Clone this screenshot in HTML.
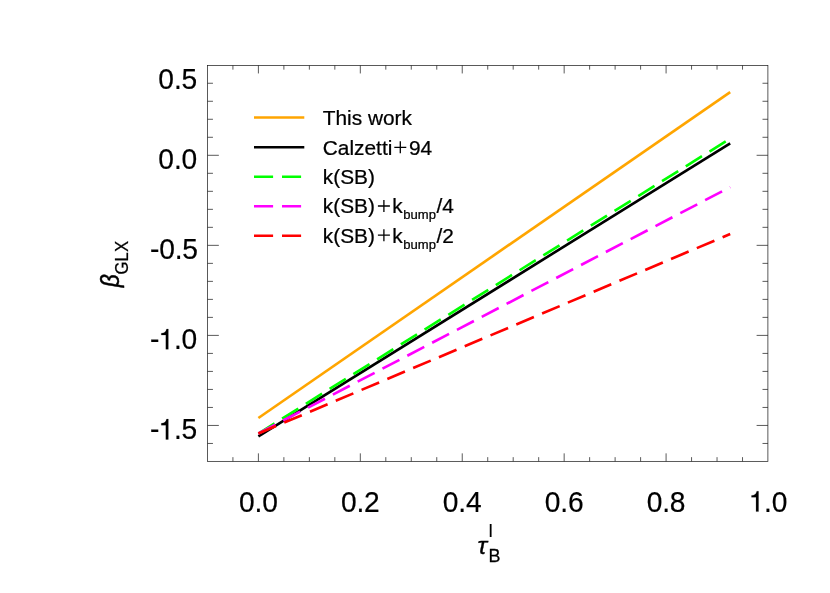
<!DOCTYPE html>
<html><head><meta charset="utf-8"><title>plot</title>
<style>html,body{margin:0;padding:0;background:#fff;}svg{display:block;will-change:transform;}text{font-family:"Liberation Sans",sans-serif;fill:#000;}</style>
</head><body>
<svg width="830" height="593" viewBox="0 0 830 593">
<rect x="0" y="0" width="830" height="593" fill="#ffffff"/>
<g stroke="#1a1a1a" stroke-width="0.72" fill="none" stroke-linecap="butt">
<rect x="207.55" y="65.45" width="560.35" height="395.90"/>
<path d="M232.92 461.35 v-4.2 M232.92 65.45 v4.2"/>
<path d="M258.40 461.35 v-8.0 M258.40 65.45 v8.0"/>
<path d="M283.88 461.35 v-4.2 M283.88 65.45 v4.2"/>
<path d="M309.36 461.35 v-4.2 M309.36 65.45 v4.2"/>
<path d="M334.84 461.35 v-4.2 M334.84 65.45 v4.2"/>
<path d="M360.32 461.35 v-8.0 M360.32 65.45 v8.0"/>
<path d="M385.80 461.35 v-4.2 M385.80 65.45 v4.2"/>
<path d="M411.28 461.35 v-4.2 M411.28 65.45 v4.2"/>
<path d="M436.76 461.35 v-4.2 M436.76 65.45 v4.2"/>
<path d="M462.24 461.35 v-8.0 M462.24 65.45 v8.0"/>
<path d="M487.72 461.35 v-4.2 M487.72 65.45 v4.2"/>
<path d="M513.20 461.35 v-4.2 M513.20 65.45 v4.2"/>
<path d="M538.68 461.35 v-4.2 M538.68 65.45 v4.2"/>
<path d="M564.16 461.35 v-8.0 M564.16 65.45 v8.0"/>
<path d="M589.64 461.35 v-4.2 M589.64 65.45 v4.2"/>
<path d="M615.12 461.35 v-4.2 M615.12 65.45 v4.2"/>
<path d="M640.60 461.35 v-4.2 M640.60 65.45 v4.2"/>
<path d="M666.08 461.35 v-8.0 M666.08 65.45 v8.0"/>
<path d="M691.56 461.35 v-4.2 M691.56 65.45 v4.2"/>
<path d="M717.04 461.35 v-4.2 M717.04 65.45 v4.2"/>
<path d="M742.52 461.35 v-4.2 M742.52 65.45 v4.2"/>
<path d="M207.55 443.46 h5.4 M767.9 443.46 h-5.4"/>
<path d="M207.55 425.45 h11.3 M767.9 425.45 h-11.3"/>
<path d="M207.55 407.44 h5.4 M767.9 407.44 h-5.4"/>
<path d="M207.55 389.43 h5.4 M767.9 389.43 h-5.4"/>
<path d="M207.55 371.42 h5.4 M767.9 371.42 h-5.4"/>
<path d="M207.55 353.41 h5.4 M767.9 353.41 h-5.4"/>
<path d="M207.55 335.40 h11.3 M767.9 335.40 h-11.3"/>
<path d="M207.55 317.39 h5.4 M767.9 317.39 h-5.4"/>
<path d="M207.55 299.38 h5.4 M767.9 299.38 h-5.4"/>
<path d="M207.55 281.37 h5.4 M767.9 281.37 h-5.4"/>
<path d="M207.55 263.36 h5.4 M767.9 263.36 h-5.4"/>
<path d="M207.55 245.35 h11.3 M767.9 245.35 h-11.3"/>
<path d="M207.55 227.34 h5.4 M767.9 227.34 h-5.4"/>
<path d="M207.55 209.33 h5.4 M767.9 209.33 h-5.4"/>
<path d="M207.55 191.32 h5.4 M767.9 191.32 h-5.4"/>
<path d="M207.55 173.31 h5.4 M767.9 173.31 h-5.4"/>
<path d="M207.55 155.30 h11.3 M767.9 155.30 h-11.3"/>
<path d="M207.55 137.29 h5.4 M767.9 137.29 h-5.4"/>
<path d="M207.55 119.28 h5.4 M767.9 119.28 h-5.4"/>
<path d="M207.55 101.27 h5.4 M767.9 101.27 h-5.4"/>
<path d="M207.55 83.26 h5.4 M767.9 83.26 h-5.4"/>
</g>
<g fill="none" stroke-width="2.65" stroke-linecap="butt">
<path d="M258.4 418.0 L730.2 92.1" stroke="#ffa500"/>
<path d="M258.4 436.4 L730.2 143.3" stroke="#000"/>
<path d="M258.4 433.5 L730.2 138.6" stroke="#00ff00" stroke-dasharray="19.1 8.9"/>
<path d="M258.4 433.5 L730.2 187.1" stroke="#ff00ff" stroke-dasharray="19.1 8.9"/>
<path d="M258.4 433.5 L730.2 234.0" stroke="#ff0000" stroke-dasharray="19.1 8.9"/>
</g>
<g fill="none" stroke-width="2.5" stroke-linecap="butt">
<path d="M254.0 117.55 H304.3" stroke="#ffa500"/>
<path d="M254.0 147.25 H304.3" stroke="#000"/>
<path d="M254.0 176.85 H304.3" stroke="#00ff00" stroke-dasharray="19.1 8.9"/>
<path d="M254.0 206.35 H304.3" stroke="#ff00ff" stroke-dasharray="19.1 8.9"/>
<path d="M254.0 235.85 H304.3" stroke="#ff0000" stroke-dasharray="19.1 8.9"/>
</g>
<g transform="translate(258.35 511.60) scale(0.965 1)"><text x="-20.07" y="0" font-size="29.2" letter-spacing="-0.15" stroke="#000" stroke-width="0.2">0.0</text></g>
<g transform="translate(360.27 511.60) scale(0.965 1)"><text x="-20.07" y="0" font-size="29.2" letter-spacing="-0.15" stroke="#000" stroke-width="0.2">0.2</text></g>
<g transform="translate(462.19 511.60) scale(0.965 1)"><text x="-20.07" y="0" font-size="29.2" letter-spacing="-0.15" stroke="#000" stroke-width="0.2">0.4</text></g>
<g transform="translate(564.11 511.60) scale(0.965 1)"><text x="-20.07" y="0" font-size="29.2" letter-spacing="-0.15" stroke="#000" stroke-width="0.2">0.6</text></g>
<g transform="translate(666.03 511.60) scale(0.965 1)"><text x="-20.07" y="0" font-size="29.2" letter-spacing="-0.15" stroke="#000" stroke-width="0.2">0.8</text></g>
<g transform="translate(767.95 511.60) scale(0.965 1)"><path d="M-9.76 -0.00 L-12.33 -0.00 L-12.33 -14.31 L-17.03 -14.31 L-17.03 -16.12 C-14.08 -16.26 -12.24 -17.20 -11.57 -20.35 L-9.76 -20.35 Z" fill="#000" stroke="#000" stroke-width="0.2"/><text x="-3.98" y="0" font-size="29.2" letter-spacing="-0.15" stroke="#000" stroke-width="0.2">.0</text></g>
<g transform="translate(197.10 89.45) scale(0.965 1)"><text x="-40.14" y="0" font-size="29.2" letter-spacing="-0.15" stroke="#000" stroke-width="0.2">0.5</text></g>
<g transform="translate(197.10 169.25) scale(0.965 1)"><text x="-40.14" y="0" font-size="29.2" letter-spacing="-0.15" stroke="#000" stroke-width="0.2">0.0</text></g>
<g transform="translate(197.10 259.25) scale(0.965 1)"><text x="-48.89" y="0" font-size="29.2" letter-spacing="-0.15" stroke="#000" stroke-width="0.2">-0.5</text></g>
<g transform="translate(197.10 349.35) scale(0.965 1)"><text x="-48.89" y="0" font-size="29.2" letter-spacing="-0.15" stroke="#000" stroke-width="0.2">-</text><path d="M-29.83 -0.00 L-32.40 -0.00 L-32.40 -14.31 L-37.10 -14.31 L-37.10 -16.12 C-34.15 -16.26 -32.31 -17.20 -31.64 -20.35 L-29.83 -20.35 Z" fill="#000" stroke="#000" stroke-width="0.2"/><text x="-24.05" y="0" font-size="29.2" letter-spacing="-0.15" stroke="#000" stroke-width="0.2">.0</text></g>
<g transform="translate(197.10 439.45) scale(0.965 1)"><text x="-48.89" y="0" font-size="29.2" letter-spacing="-0.15" stroke="#000" stroke-width="0.2">-</text><path d="M-29.83 -0.00 L-32.40 -0.00 L-32.40 -14.31 L-37.10 -14.31 L-37.10 -16.12 C-34.15 -16.26 -32.31 -17.20 -31.64 -20.35 L-29.83 -20.35 Z" fill="#000" stroke="#000" stroke-width="0.2"/><text x="-24.05" y="0" font-size="29.2" letter-spacing="-0.15" stroke="#000" stroke-width="0.2">.5</text></g>
<text transform="translate(322.80 124.90) scale(0.988 1)" font-size="21.1" text-anchor="start" stroke="#000" stroke-width="0.25">This work</text>
<text transform="translate(322.80 154.70) scale(0.988 1)" font-size="21.1" text-anchor="start" stroke="#000" stroke-width="0.25">Calzetti</text>
<path d="M394.30 147.30 h12.0 M400.30 141.30 v12.0" stroke="#000" stroke-width="1.3" fill="none"/>
<text transform="translate(408.95 154.70) scale(0.988 1)" font-size="21.1" text-anchor="start" stroke="#000" stroke-width="0.25">94</text>
<text transform="translate(322.80 183.90) scale(0.988 1)" font-size="21.1" text-anchor="start" stroke="#000" stroke-width="0.25">k(SB)</text>
<text transform="translate(322.80 213.40) scale(0.988 1)" font-size="21.1" text-anchor="start" stroke="#000" stroke-width="0.25">k(SB)</text>
<path d="M377.90 206.00 h12.0 M383.90 200.00 v12.0" stroke="#000" stroke-width="1.3" fill="none"/>
<text transform="translate(392.30 213.40) scale(0.988 1)" font-size="21.1" text-anchor="start" stroke="#000" stroke-width="0.25">k</text>
<text transform="translate(403.30 219.30) scale(0.988 1)" font-size="13.2" text-anchor="start" stroke="#000" stroke-width="0.25">bump</text>
<text transform="translate(436.40 213.40) scale(0.988 1)" font-size="21.1" text-anchor="start" stroke="#000" stroke-width="0.25">/</text>
<text transform="translate(442.20 213.40) scale(0.988 1)" font-size="21.1" text-anchor="start" stroke="#000" stroke-width="0.25">4</text>
<text transform="translate(322.80 242.60) scale(0.988 1)" font-size="21.1" text-anchor="start" stroke="#000" stroke-width="0.25">k(SB)</text>
<path d="M377.90 235.20 h12.0 M383.90 229.20 v12.0" stroke="#000" stroke-width="1.3" fill="none"/>
<text transform="translate(392.30 242.60) scale(0.988 1)" font-size="21.1" text-anchor="start" stroke="#000" stroke-width="0.25">k</text>
<text transform="translate(403.30 248.50) scale(0.988 1)" font-size="13.2" text-anchor="start" stroke="#000" stroke-width="0.25">bump</text>
<text transform="translate(436.40 242.60) scale(0.988 1)" font-size="21.1" text-anchor="start" stroke="#000" stroke-width="0.25">/</text>
<text transform="translate(442.20 242.60) scale(0.988 1)" font-size="21.1" text-anchor="start" stroke="#000" stroke-width="0.25">2</text>
<g transform="translate(119.36 287.33) rotate(-90) scale(0.872 1)"><text font-size="26.15" font-style="italic" stroke="#000" stroke-width="0.5">β</text></g>
<g transform="translate(128.0 274.4) rotate(-90) scale(0.925 1)"><text font-size="18.10" stroke="#000" stroke-width="0.25">GLX</text></g>
<text transform="translate(477.6 553.6) scale(1.10 1)" font-size="23.1" font-style="italic" stroke="#000" stroke-width="0.3">τ</text>
<text transform="translate(488.6 562.1) scale(0.995 1)" font-size="18.10" stroke="#000" stroke-width="0.25">B</text>
<text transform="translate(488.75 536.7) scale(0.965 1)" font-size="18.10" stroke="#000" stroke-width="0.2">l</text>
</svg>
</body></html>
